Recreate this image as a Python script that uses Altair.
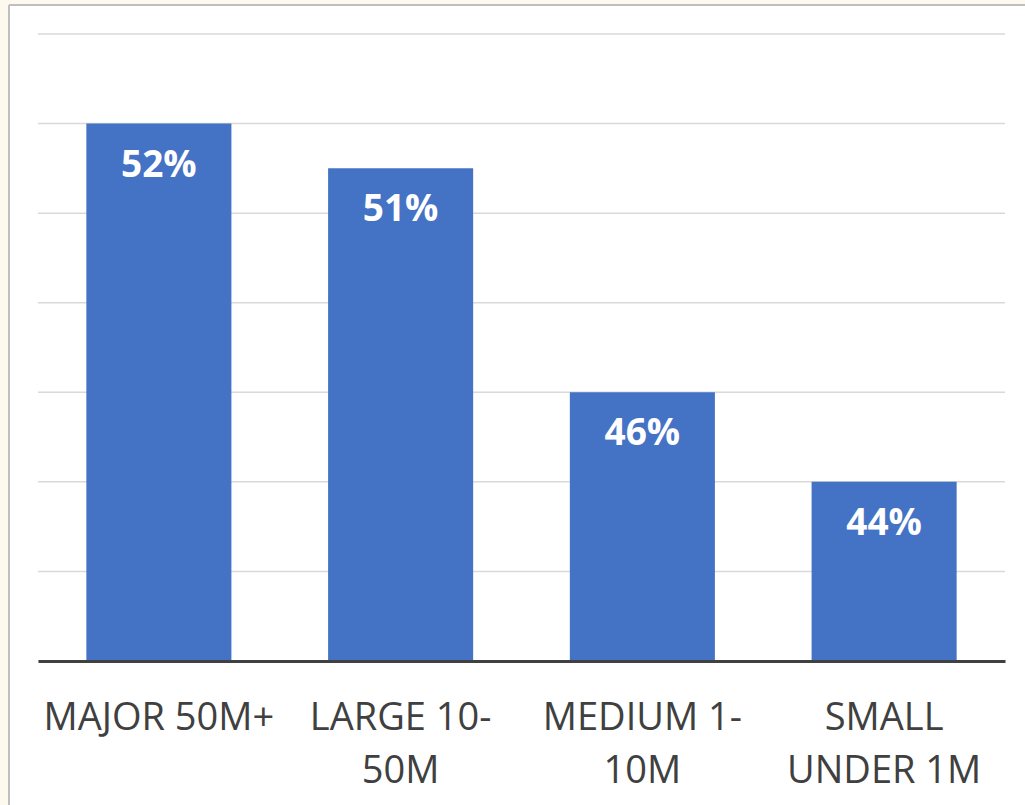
import altair as alt
import pandas as pd

# Share of companies by revenue size (percent)
categories = ["MAJOR 50M+", "LARGE 10-\n50M", "MEDIUM 1-\n10M", "SMALL\nUNDER 1M"]
values = [52, 51, 46, 44]
gridlines = [40, 42, 44, 46, 48, 50, 52, 54]

df = pd.DataFrame({"category": categories, "value": values})
df["label"] = df["value"].astype(str) + "%"

FONT = "Open Sans"
BAR = "#4472C4"
TEXT = "#404040"

x_enc = alt.X(
    "category:N",
    sort=categories,
    scale=alt.Scale(paddingInner=0.4, paddingOuter=0.2),
    axis=alt.Axis(
        title=None,
        labelAngle=0,
        labelExpr="split(datum.label, '\\n')",
        labelFont=FONT,
        labelFontSize=38,
        labelColor=TEXT,
        labelLineHeight=53,
        labelPadding=38,
        labelLimit=0,
        labelOverlap=False,
        ticks=False,
        grid=False,
        domainColor=TEXT,
        domainWidth=3,
        zindex=1,
    ),
)
y_scale = alt.Scale(domain=[40, 54], nice=False, zero=False)

base = alt.Chart(df)

grid = alt.Chart(pd.DataFrame({"g": gridlines})).mark_rule(
    color="#d9d9d9", strokeWidth=1.5
).encode(y=alt.Y("g:Q", scale=y_scale, axis=None))

bars = base.mark_bar(color=BAR).encode(
    x=x_enc,
    y=alt.Y("value:Q", scale=y_scale, axis=None),
    y2=alt.datum(40),
)

labels = base.mark_text(
    font=FONT, fontSize=37, fontWeight="bold", color="white",
    baseline="alphabetic", dy=53,
).encode(
    x=alt.X("category:N", sort=categories),
    y=alt.Y("value:Q", scale=y_scale),
    text="label:N",
)

# Frame around the chart: cream margin strip and grey border line
frame_data = alt.Data(values=[{}])
top_strip = alt.Chart(frame_data).mark_rect(color="#FDF9EF").encode(
    x=alt.value(-38), x2=alt.value(1000), y=alt.value(-34), y2=alt.value(-29)
)
left_strip = alt.Chart(frame_data).mark_rect(color="#FDF9EF").encode(
    x=alt.value(-38), x2=alt.value(-29), y=alt.value(-34), y2=alt.value(800)
)
top_line = alt.Chart(frame_data).mark_rule(color="#bfbfbf", strokeWidth=2).encode(
    x=alt.value(-29), x2=alt.value(1000), y=alt.value(-29)
)
left_line = alt.Chart(frame_data).mark_rule(color="#bfbfbf", strokeWidth=2).encode(
    x=alt.value(-29), y=alt.value(-29), y2=alt.value(800)
)

chart = (
    alt.layer(grid, bars, labels, top_strip, left_strip, top_line, left_line)
    .properties(
        width=967,
        height=627,
        autosize=alt.AutoSizeParams(type="none"),
        padding={"left": 38, "top": 34, "right": 20, "bottom": 144},
        background="white",
    )
    .configure_view(stroke=None)
)

chart.save("out.html", embed_options={"renderer": "svg", "actions": False})
